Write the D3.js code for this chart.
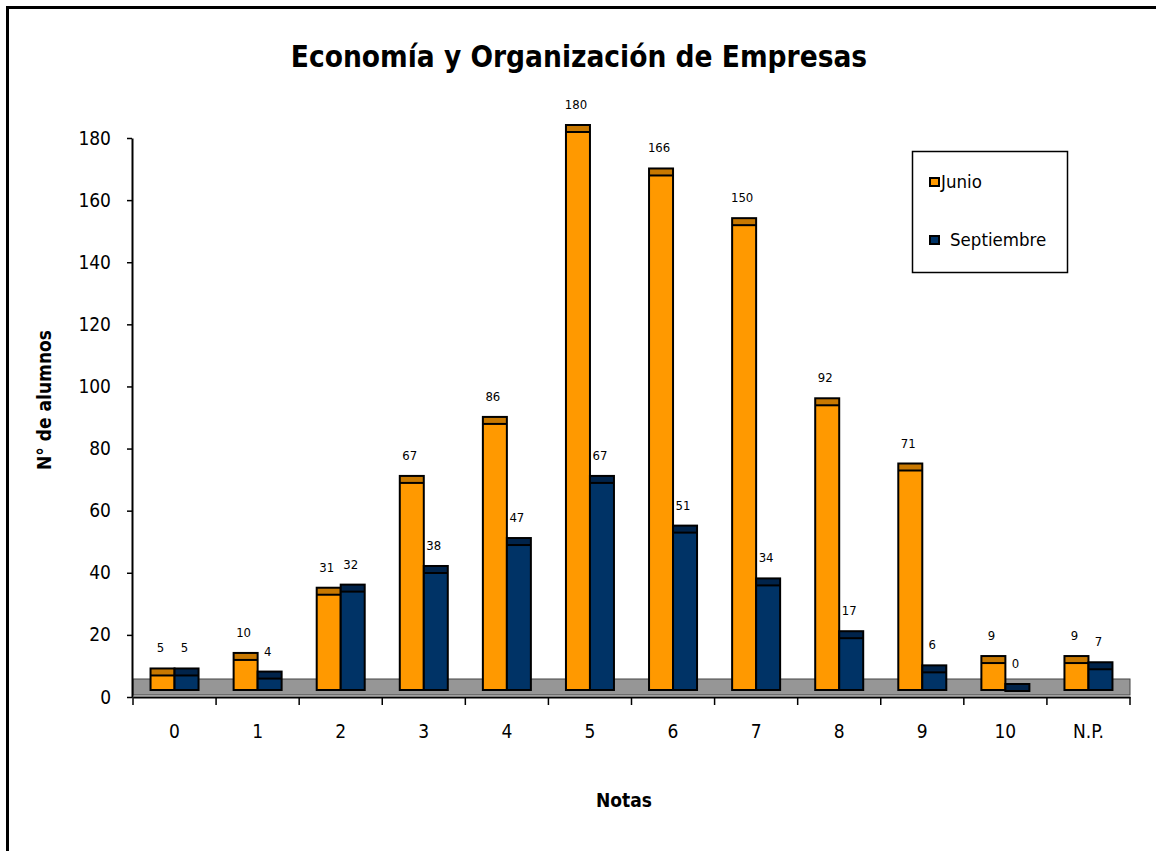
<!DOCTYPE html>
<html>
<head>
<meta charset="utf-8">
<script src="https://cdn.jsdelivr.net/npm/d3@7"></script>
<style>
  html, body { margin: 0; padding: 0; background: #fff; }
  svg { display: block; }
  text { font-family: "DejaVu Sans Condensed", "DejaVu Sans", sans-serif; fill: #000; }
</style>
</head>
<body>
<svg id="chart" width="1156" height="851"></svg>
<script>
const categories = ["0", "1", "2", "3", "4", "5", "6", "7", "8", "9", "10", "N.P."];
const seriesNames = ["Junio", "Septiembre"];
const junio = [5, 10, 31, 67, 86, 180, 166, 150, 92, 71, 9, 9];
const septiembre = [5, 4, 32, 38, 47, 67, 51, 34, 17, 6, 0, 7];
const yTicks = [0, 20, 40, 60, 80, 100, 120, 140, 160, 180];
const titleText = "Economía y Organización de Empresas";
const yTitle = "N° de alumnos";
const xTitle = "Notas";

const frontColors = { "Junio": "#FF9900", "Septiembre": "#003366" };
const capColors = { "Junio": "#C87800", "Septiembre": "#00234A" };

const svg = d3.select("#chart");

// outer frame
svg.append("rect").attr("x", 7.5).attr("y", 7.5).attr("width", 1200).attr("height", 900)
  .attr("fill", "none").attr("stroke", "#000").attr("stroke-width", 3);

const y = d3.scaleLinear().domain([0, 180]).range([697, 138]);
const x = d3.scaleBand().domain(categories).range([133, 1130]).padding(0);
const xs = d3.scaleBand().domain(seriesNames).range([-24, 24]).padding(0);

const depth = 6;   // 3D offset of bars above axis
const capH = 7;    // height of top cap
const barBottom = y(0) - 7;

// floor
svg.append("rect")
  .attr("x", x.range()[0]).attr("y", y(0) - 18)
  .attr("width", x.range()[1] - x.range()[0]).attr("height", 16)
  .attr("fill", "#969696").attr("stroke", "#444").attr("stroke-width", 1);

// y axis
const yAxis = d3.axisLeft(y).tickValues(yTicks).tickSize(5).tickPadding(16).tickSizeOuter(0);
const gy = svg.append("g").attr("transform", "translate(132,0)").call(yAxis);
gy.select(".domain").attr("stroke-width", 2);
gy.selectAll(".tick line").attr("stroke-width", 1.5);
gy.selectAll(".tick text").style("font-size", "19px").style("font-family", "'DejaVu Sans Condensed', sans-serif");

// x axis
const xAxis = d3.axisBottom(x).tickSize(0).tickPadding(28).tickSizeOuter(0);
const gx = svg.append("g").attr("transform", `translate(0,${y(0)})`).call(xAxis);
gx.select(".domain").attr("stroke-width", 2);
gx.selectAll(".tick text").style("font-size", "19px").style("font-family", "'DejaVu Sans Condensed', sans-serif");
// boundary ticks
const bounds = categories.map(c => x(c)).concat([x.range()[1]]);
gx.selectAll(".btick").data(bounds).enter().append("line")
  .attr("class", "btick")
  .attr("x1", d => d).attr("x2", d => d)
  .attr("y1", 0).attr("y2", 8)
  .attr("stroke", "#000").attr("stroke-width", 1.5);

// bars
const data = [];
categories.forEach((c, i) => {
  data.push({ cat: c, s: "Junio", v: junio[i] });
  data.push({ cat: c, s: "Septiembre", v: septiembre[i] });
});

const bars = svg.append("g");
data.forEach(d => {
  const cx = x(d.cat) + x.bandwidth() / 2;
  const x0 = cx + xs(d.s);
  const w = xs.bandwidth();
  const front = y(d.v) - depth;
  const top = front - capH;
  const bottom = Math.max(barBottom, front);
  const g = bars.append("g");
  g.append("rect").attr("x", x0).attr("y", front).attr("width", w).attr("height", Math.max(0, bottom - front))
    .attr("fill", frontColors[d.s]);
  g.append("rect").attr("x", x0).attr("y", top).attr("width", w).attr("height", capH)
    .attr("fill", capColors[d.s]);
  g.append("line").attr("x1", x0).attr("x2", x0 + w).attr("y1", front).attr("y2", front)
    .attr("stroke", "#000").attr("stroke-width", 2);
  g.append("rect").attr("x", x0).attr("y", top).attr("width", w).attr("height", bottom - top)
    .attr("fill", "none").attr("stroke", "#000").attr("stroke-width", 2);
  g.append("text").attr("x", x0 + w / 2 - 2).attr("y", top - 16)
    .attr("text-anchor", "middle").style("font-size", "13px").text(d.v);
});

// title
svg.append("text").attr("x", 579).attr("y", 67).attr("text-anchor", "middle")
  .style("font-size", "29.5px").style("font-weight", "bold").text(titleText);

// axis titles
svg.append("text").attr("transform", "translate(51,400) rotate(-90)").attr("text-anchor", "middle")
  .style("font-size", "19px").style("font-weight", "bold").text(yTitle);
svg.append("text").attr("x", 624).attr("y", 807).attr("text-anchor", "middle")
  .style("font-size", "19px").style("font-weight", "bold").text(xTitle);

// legend
const lg = svg.append("g");
lg.append("rect").attr("x", 912.5).attr("y", 151.5).attr("width", 155).attr("height", 121)
  .attr("fill", "#fff").attr("stroke", "#000").attr("stroke-width", 1.5);
const legendY = { "Junio": 182, "Septiembre": 240 };
const legendTx = { "Junio": 941, "Septiembre": 950 };
seriesNames.forEach(s => {
  lg.append("rect").attr("x", 930).attr("y", legendY[s] - 4).attr("width", 9).attr("height", 8)
    .attr("fill", frontColors[s]).attr("stroke", "#000").attr("stroke-width", 2);
  lg.append("text").attr("x", legendTx[s]).attr("y", legendY[s] + 6).style("font-size", "18.5px").text(s);
});
</script>
</body>
</html>
